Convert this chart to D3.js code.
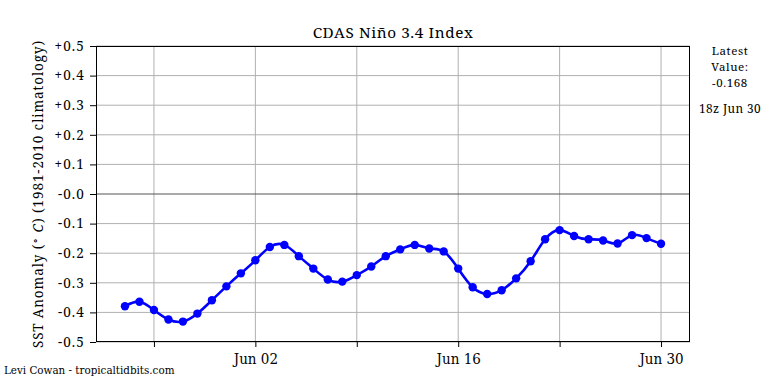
<!DOCTYPE html>
<html>
<head>
<meta charset="utf-8">
<script src="https://cdn.jsdelivr.net/npm/d3@7"></script>
<style>
  body { margin: 0; background: #fff; }
</style>
</head>
<body>
<div id="chart"></div>
<script>
// daily values, May 24 .. Jun 30
var startDate = "2024-05-24";
var ninoValues = [
  -0.379, -0.364, -0.392, -0.424, -0.431, -0.404, -0.359, -0.312, -0.268, -0.224,
  -0.179, -0.172, -0.210, -0.252, -0.289, -0.296, -0.274, -0.245, -0.210, -0.187,
  -0.172, -0.184, -0.194, -0.252, -0.315, -0.338, -0.325, -0.285, -0.227, -0.153,
  -0.122, -0.142, -0.153, -0.157, -0.167, -0.139, -0.149, -0.168
];
var yTicks = [0.5, 0.4, 0.3, 0.2, 0.1, 0, -0.1, -0.2, -0.3, -0.4, -0.5];
var xLabels = ["Jun 02", "Jun 16", "Jun 30"];
var latestText = ["Latest", "Value:", "-0.168"];
var latestTime = "18z Jun 30";

var width = 768, height = 384;
var margin = {top: 46, right: 78, bottom: 42, left: 96};
var serif = "'Noto Serif', serif";

// condensed serif for dates and credit line
function condensed(sel) {
  return sel.style("font-family", "'DejaVu Serif'").style("font-stretch", "condensed");
}

var parse = d3.timeParse("%Y-%m-%d");
var t0 = parse(startDate);
var data = ninoValues.map(function(v, i) {
  return {date: d3.timeDay.offset(t0, i), value: v};
});

var svg = d3.select("#chart").append("svg")
  .attr("width", width)
  .attr("height", height)
  .style("font-family", serif);

var x = d3.scaleTime()
  .domain([d3.timeDay.offset(t0, -2), d3.timeDay.offset(data[data.length - 1].date, 2)])
  .range([margin.left, width - margin.right]);
var y = d3.scaleLinear()
  .domain([-0.5, 0.5])
  .range([height - margin.bottom, margin.top]);

// weekly ticks aligned to Jun 02
var tickDates = d3.range(-1, 5).map(function(i) {
  return d3.timeDay.offset(parse("2024-06-02"), i * 7);
});
var fmt = d3.timeFormat("%b %d");

// grid
svg.append("g").selectAll("line")
  .data(tickDates).enter().append("line")
  .attr("x1", function(d) { return x(d); })
  .attr("x2", function(d) { return x(d); })
  .attr("y1", margin.top).attr("y2", height - margin.bottom)
  .attr("stroke", "#b0b0b0").attr("stroke-width", 1);
svg.append("g").selectAll("line")
  .data(yTicks).enter().append("line")
  .attr("x1", margin.left).attr("x2", width - margin.right)
  .attr("y1", function(d) { return y(d); })
  .attr("y2", function(d) { return y(d); })
  .attr("stroke", function(d) { return d === 0 ? "#555" : "#b0b0b0"; })
  .attr("stroke-width", 1);

// axes
var yAxis = svg.append("g")
  .attr("transform", "translate(" + margin.left + ",0)")
  .call(d3.axisLeft(y).tickValues(yTicks).tickSize(6).tickPadding(5)
    .tickFormat(function(d) { return (d > 0 ? "+" : "-") + Math.abs(d).toFixed(1); }));
yAxis.select(".domain").remove();
yAxis.attr("font-family", null);
yAxis.selectAll("line").attr("stroke", "#000");
yAxis.selectAll("text").style("font-family", serif).style("font-size", "13.5px")
  .style("letter-spacing", "1.1px").attr("fill", "#000");

var xAxis = svg.append("g")
  .attr("transform", "translate(0," + (height - margin.bottom) + ")")
  .call(d3.axisBottom(x).tickValues(tickDates).tickSize(5).tickPadding(6)
    .tickFormat(function(d) {
      var s = fmt(d);
      return xLabels.indexOf(s) >= 0 ? s : "";
    }));
xAxis.select(".domain").remove();
xAxis.attr("font-family", null);
xAxis.selectAll("line").attr("stroke", "#000");
condensed(xAxis.selectAll("text")).style("font-size", "15px").attr("fill", "#000");

svg.append("rect")
  .attr("x", margin.left + 0.5).attr("y", margin.top + 0.5)
  .attr("width", width - margin.left - margin.right - 1)
  .attr("height", height - margin.top - margin.bottom - 1)
  .attr("fill", "none").attr("stroke", "#000").attr("stroke-width", 1);

// series
var line = d3.line()
  .x(function(d) { return x(d.date); })
  .y(function(d) { return y(d.value); })
  .curve(d3.curveNatural);
svg.append("path")
  .datum(data)
  .attr("d", line)
  .attr("fill", "none")
  .attr("stroke", "#0000ff")
  .attr("stroke-width", 2.6);
svg.append("g").selectAll("circle")
  .data(data).enter().append("circle")
  .attr("cx", function(d) { return x(d.date); })
  .attr("cy", function(d) { return y(d.value); })
  .attr("r", 4.2)
  .attr("fill", "#0000ff");

// title and labels
svg.append("text")
  .attr("x", (margin.left + width - margin.right) / 2)
  .attr("y", 38)
  .attr("text-anchor", "middle")
  .style("font-size", "15.3px")
  .style("letter-spacing", "0.6px")
  .text("CDAS Niño 3.4 Index");

var ylab = svg.append("text")
  .attr("transform", "translate(43," + y(0) + ") rotate(-90)")
  .attr("text-anchor", "middle")
  .style("font-size", "13.5px")
  .style("letter-spacing", "0.9px");
ylab.append("tspan").text("SST Anomaly (");
ylab.append("tspan").attr("dy", -5).style("font-size", "9.5px").text("\u2218");
ylab.append("tspan").attr("dy", 5).text(" ");
ylab.append("tspan").style("font-style", "italic").text("C");
ylab.append("tspan").text(") (1981-2010 climatology)");

svg.append("g").selectAll("text")
  .data(latestText).enter().append("text")
  .attr("x", 730)
  .attr("y", function(d, i) { return 55 + i * 15.8; })
  .attr("text-anchor", "middle")
  .style("font-size", "11.5px")
  .style("letter-spacing", "0.6px")
  .text(function(d) { return d; });
svg.append("text")
  .attr("x", 730).attr("y", 113)
  .attr("text-anchor", "middle")
  .style("font-size", "11.8px")
  .style("letter-spacing", "0.4px")
  .text(latestTime);

condensed(svg.append("text"))
  .attr("x", 4).attr("y", 374)
  .style("font-size", "11.5px")
  .text("Levi Cowan - tropicaltidbits.com");
</script>
</body>
</html>
